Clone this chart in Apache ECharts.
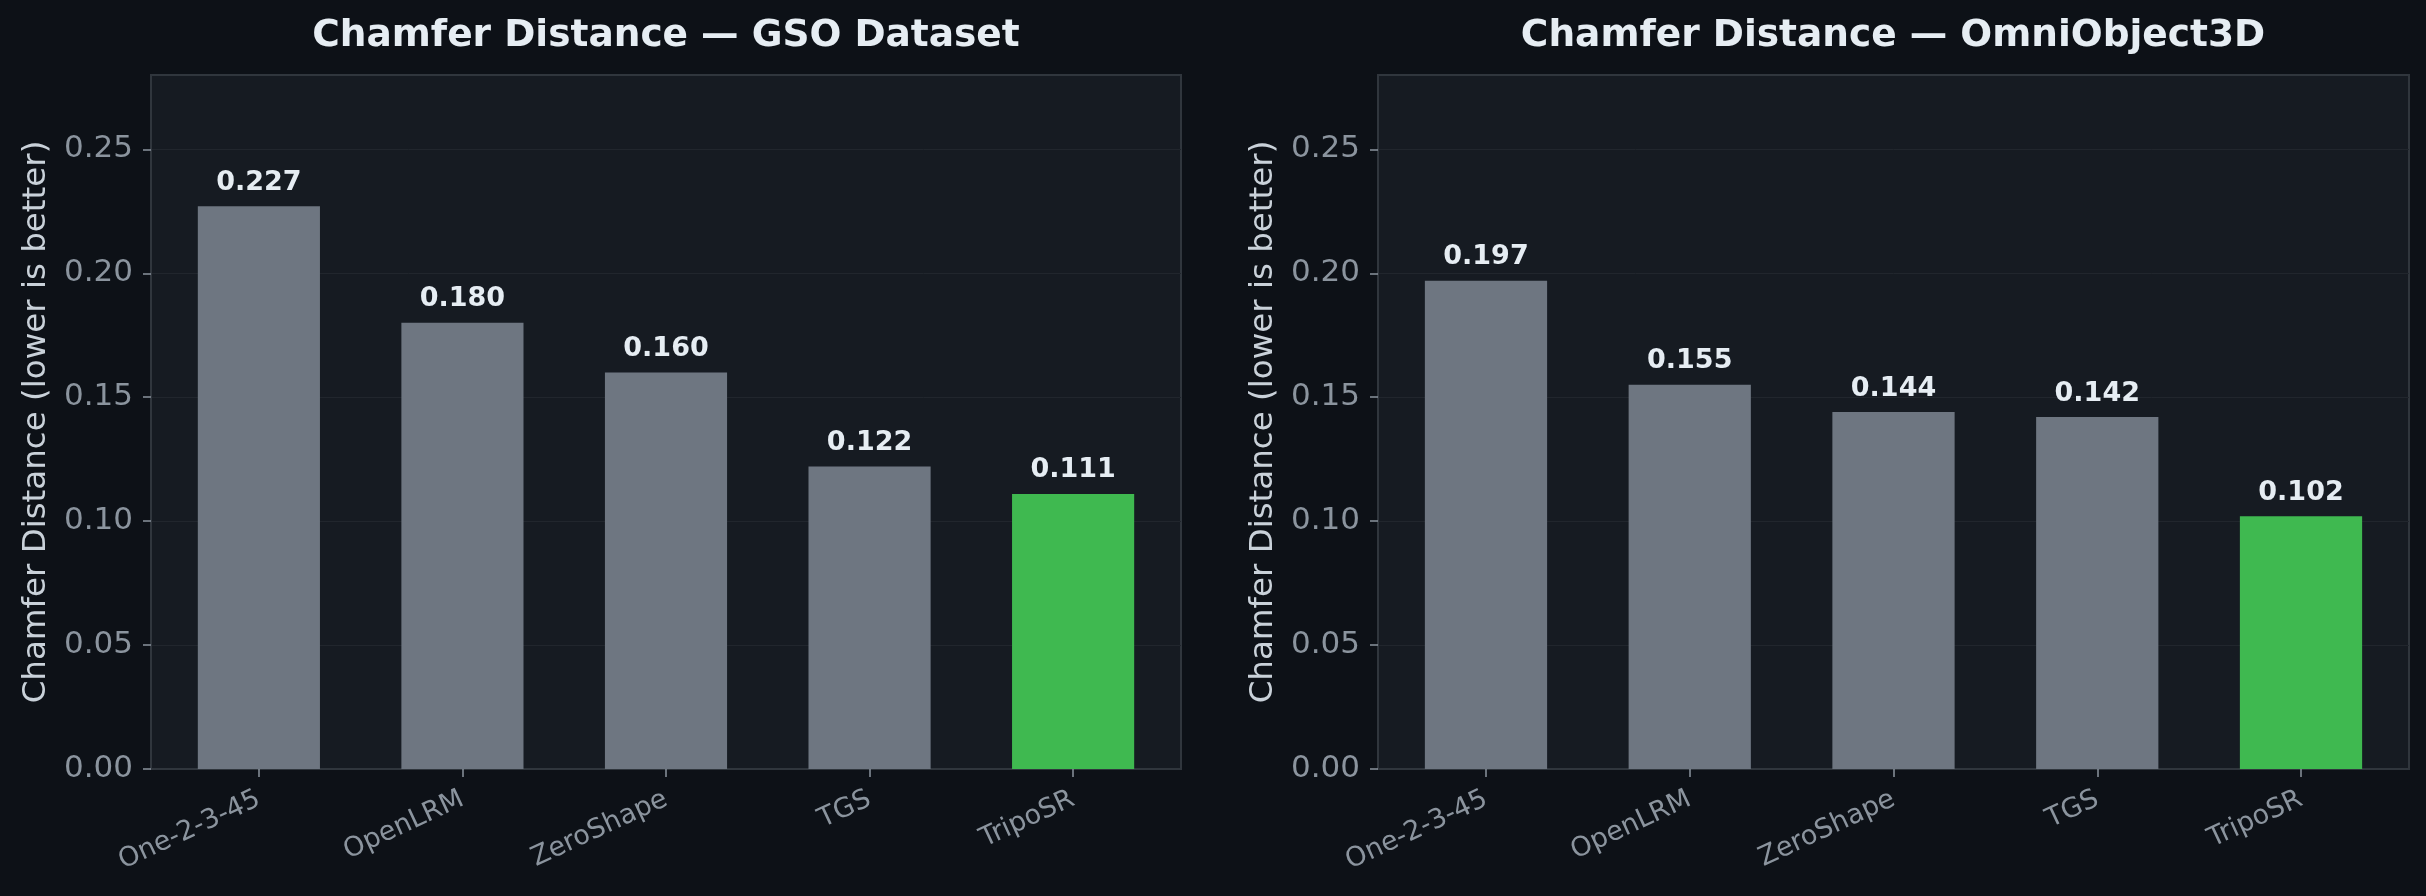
<!DOCTYPE html>
<html>
<head>
<meta charset="utf-8">
<script src="https://cdn.jsdelivr.net/npm/echarts@6/dist/echarts.min.js"></script>
<style>
  html, body { margin: 0; padding: 0; background: #0d1117; }
  #chart { width: 2426px; height: 896px; }
</style>
</head>
<body>
<div id="chart"></div>
<script>
// methods on the x axis
const methods = ['One-2-3-45', 'OpenLRM', 'ZeroShape', 'TGS', 'TripoSR']
// chamfer distance per dataset
const gsoValues = [0.227, 0.180, 0.160, 0.122, 0.111]
const omniValues = [0.197, 0.155, 0.144, 0.142, 0.102]
const panelTitles = ['Chamfer Distance — GSO Dataset', 'Chamfer Distance — OmniObject3D']
const yTicks = [0, 0.05, 0.10, 0.15, 0.20, 0.25]
const yName = 'Chamfer Distance (lower is better)'

const font = 'DejaVu Sans'
const gray = '#6e7681'
const green = '#3fb950'

const chart = echarts.init(document.getElementById('chart'))

const grids = [
  { left: 151, right: 1245, top: 75, bottom: 127 },
  { left: 1378, right: 17, top: 75, bottom: 127 }
]
const xIdx = methods.map((m, i) => i)

function xAxisFor(i) {
  // value axis so the padding around the bars matches (-0.53 .. 4.53)
  return {
    type: 'value',
    gridIndex: i,
    min: -0.53, max: methods.length - 0.47,
    axisLine: { show: true, onZero: false, lineStyle: { color: '#30363d', width: 2 } },
    axisTick: { show: true, customValues: xIdx, length: 8, lineStyle: { color: '#8b949e', width: 1.5 } },
    axisLabel: {
      customValues: xIdx,
      rotate: 25, margin: 29, color: '#8b949e',
      fontFamily: font, fontSize: 27,
      formatter: v => methods[Math.round(v)] || ''
    },
    splitLine: { show: false }
  }
}

function yAxisFor(i) {
  return {
    type: 'value',
    gridIndex: i,
    min: 0, max: 0.28,
    name: yName,
    nameLocation: 'middle',
    nameGap: 98,
    nameTextStyle: { color: '#c9d1d9', fontFamily: font, fontSize: 32.5 },
    axisLine: { show: true, onZero: false, lineStyle: { color: '#30363d', width: 2 } },
    axisTick: { show: true, customValues: yTicks, length: 8, lineStyle: { color: '#8b949e', width: 1.5 } },
    axisLabel: {
      customValues: yTicks,
      margin: 18, color: '#8b949e', fontFamily: font, fontSize: 31,
      formatter: v => v.toFixed(2)
    },
    splitLine: { show: true, lineStyle: { color: '#21262d', width: 1 } }
  }
}

function barSeries(i, values) {
  return {
    type: 'bar',
    xAxisIndex: i,
    yAxisIndex: i,
    barWidth: '60%',
    data: values.map((v, k) => ({
      value: [k, v],
      itemStyle: { color: k === values.length - 1 ? green : gray }
    })),
    label: {
      show: true, position: 'top', distance: 10,
      color: '#e6edf3', fontFamily: font, fontWeight: 'bold', fontSize: 27,
      formatter: p => p.value[1].toFixed(3)
    }
  }
}

chart.setOption({
  backgroundColor: '#0d1117',
  animation: false,
  title: panelTitles.map((t, i) => ({
    text: t,
    left: i === 0 ? 661 : 1888,
    top: 12,
    textAlign: 'center',
    textStyle: { color: '#e6edf3', fontFamily: font, fontWeight: 'bold', fontSize: 37.5 }
  })),
  grid: grids.map(g => Object.assign({
    show: true, backgroundColor: '#161b22', borderColor: '#30363d', borderWidth: 2
  }, g)),
  xAxis: [xAxisFor(0), xAxisFor(1)],
  yAxis: [yAxisFor(0), yAxisFor(1)],
  series: [barSeries(0, gsoValues), barSeries(1, omniValues)]
})
</script>
</body>
</html>
